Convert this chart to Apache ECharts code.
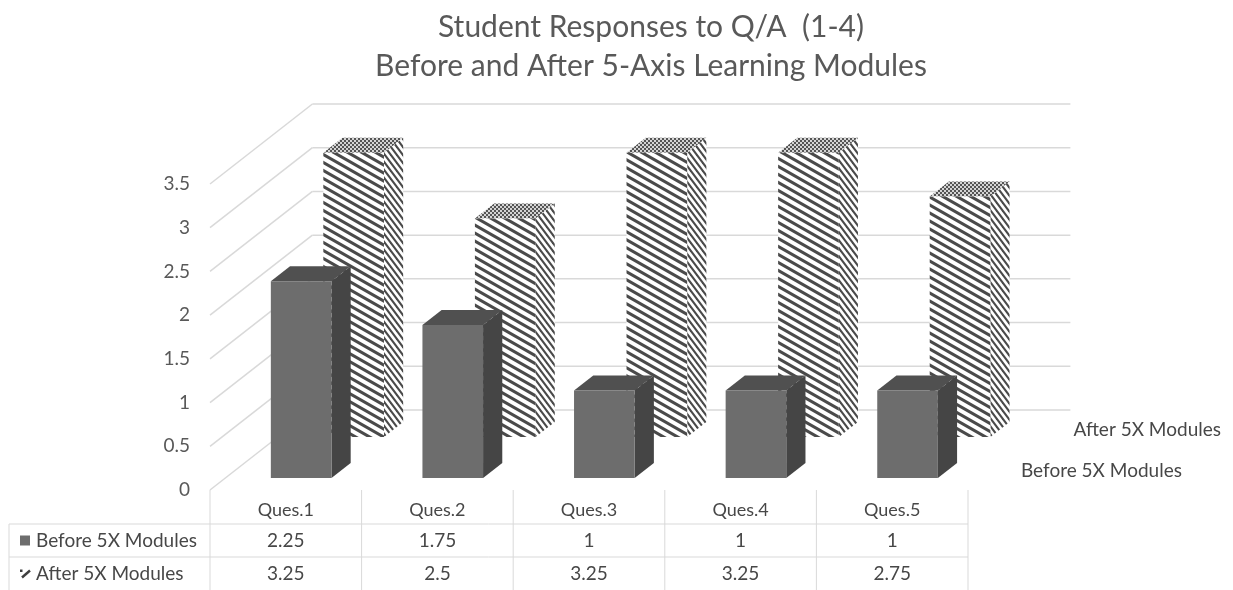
<!DOCTYPE html>
<html>
<head>
<meta charset="utf-8">
<script src="https://cdn.jsdelivr.net/npm/echarts@6/dist/echarts.min.js"></script>
<style>
  html, body { margin: 0; padding: 0; background: #ffffff; }
  #chart { width: 1233px; height: 590px; }
</style>
</head>
<body>
<div id="chart"></div>
<script>
// ---- data ----
const categories = ['Ques.1', 'Ques.2', 'Ques.3', 'Ques.4', 'Ques.5'];
const seriesNames = ['Before 5X Modules', 'After 5X Modules'];
const beforeValues = [2.25, 1.75, 1, 1, 1];
const afterValues = [3.25, 2.5, 3.25, 3.25, 2.75];
const valueTicks = [0, 0.5, 1, 1.5, 2, 2.5, 3, 3.5];
const titleLines = ['Student Responses to Q/A  (1-4)', 'Before and After 5-Axis Learning Modules'];

// ---- oblique 3D look ----
const FONT = 'Lato, "Open Sans", sans-serif';
const SLANT = 1.28;          // horizontal shift per pixel of depth rise
const FLOOR_DEPTH = 80;      // depth of the floor, in pixels of rise
const ROWS = [               // depth band of each series row (front, back)
  { front: 12, back: 27 },   // Before
  { front: 53, back: 68 }    // After
];
const BAR_RATIO = 0.40;
const GRID_COLOR = '#d9d9d9';
const TEXT_COLOR = '#595959';
const TABLE_TEXT = '#474747';
const TABLE_FONT = '19px ' + FONT;
const TABLE_LEFT = 9;

function tile(w, h, draw) {
  const c = document.createElement('canvas');
  c.width = w; c.height = h;
  const g = c.getContext('2d');
  draw(g, w, h);
  return c;
}
function stripes(w, h, thick, color) {
  return tile(w, h, function (g) {
    g.fillStyle = '#ffffff';
    g.fillRect(0, 0, w, h);
    g.fillStyle = color;
    for (let k = -h; k <= h; k += h) {
      g.beginPath();
      g.moveTo(0, k); g.lineTo(w, k + h); g.lineTo(w, k + h + thick); g.lineTo(0, k + thick);
      g.closePath(); g.fill();
    }
  });
}
const frontHatch = { image: stripes(14, 8, 3.5, '#4a4a4a'), repeat: 'repeat' };
const sideHatch = { image: stripes(6, 8, 3.5, '#4a4a4a'), repeat: 'repeat' };
const topHatch = {
  image: tile(4, 4, function (g) {
    g.fillStyle = '#d4d4d4'; g.fillRect(0, 0, 4, 4);
    g.fillStyle = '#555555'; g.fillRect(0, 0, 2, 2); g.fillRect(2, 2, 2, 2);
  }),
  repeat: 'repeat'
};

const FILLS = [
  { front: '#6d6d6d', side: '#454545', top: '#505050' },
  { front: frontHatch, side: sideHatch, top: topHatch }
];

function shift(p, w) { return [p[0] + w * SLANT, p[1] - w]; }

function barRenderer(rowIndex) {
  const row = ROWS[rowIndex];
  const fill = FILLS[rowIndex];
  return function (params, api) {
    const idx = api.value(0);
    const val = api.value(1);
    const base = api.coord([idx, 0]);
    const top = api.coord([idx, val]);
    const bw = api.size([1, 0])[0] * BAR_RATIO;
    const xl = base[0] - bw / 2, xr = base[0] + bw / 2;
    const f = row.front, b = row.back;
    const fTL = shift([xl, top[1]], f), fTR = shift([xr, top[1]], f);
    const fBR = shift([xr, base[1]], f);
    const bTL = shift([xl, top[1]], b), bTR = shift([xr, top[1]], b);
    const bBR = shift([xr, base[1]], b);
    return {
      type: 'group',
      children: [
        { type: 'polygon', shape: { points: [fBR, fTR, bTR, bBR] }, style: { fill: fill.side } },
        { type: 'polygon', shape: { points: [fTL, fTR, bTR, bTL] }, style: { fill: fill.top } },
        { type: 'rect', shape: { x: fTL[0], y: fTL[1], width: bw, height: base[1] - top[1] }, style: { fill: fill.front } }
      ]
    };
  };
}

// walls: back-wall gridlines and side-wall diagonals, one pair per tick
function wallRenderer(params, api) {
  const cs = params.coordSys;
  const v = api.value(0);
  const y = api.coord([0, v])[1];
  const left = [cs.x, y];
  const backLeft = shift(left, FLOOR_DEPTH);
  const backRight = shift([cs.x + cs.width, y], FLOOR_DEPTH);
  const lineStyle = { stroke: GRID_COLOR, lineWidth: 1.5, fill: null };
  return {
    type: 'group',
    children: [
      { type: 'line', shape: { x1: left[0], y1: left[1], x2: backLeft[0], y2: backLeft[1] }, style: lineStyle },
      { type: 'line', shape: { x1: backLeft[0], y1: backLeft[1], x2: backRight[0], y2: backRight[1] }, style: lineStyle }
    ]
  };
}

// series (depth) axis labels at the right end of the floor
function depthLabelRenderer(params, api) {
  const cs = params.coordSys;
  const r = api.value(0);
  const mid = (ROWS[r].front + ROWS[r].back) / 2;
  const p = shift([cs.x + cs.width, cs.y + cs.height], mid);
  return {
    type: 'text',
    style: {
      x: p[0] + 28, y: p[1], text: seriesNames[r],
      fill: TABLE_TEXT, font: TABLE_FONT, textAlign: 'left', textVerticalAlign: 'middle'
    }
  };
}

// data table under the floor
function tableRenderer(params, api) {
  const cs = params.coordSys;
  const i = api.value(0);
  const bandW = api.size([1, 0])[0];
  const cx = api.coord([i, 0])[0];
  const xl = cx - bandW / 2, xr = cx + bandW / 2;
  const floorY = cs.y + cs.height;
  const bottom = api.getHeight();
  const rowY = [floorY + 34, floorY + 67];
  const ln = { stroke: GRID_COLOR, lineWidth: 1, fill: null };
  const txt = function (x, y, s, align) {
    return { type: 'text', style: { x: x, y: y, text: s, fill: TABLE_TEXT, font: TABLE_FONT, textAlign: align || 'center', textVerticalAlign: 'middle' } };
  };
  const children = [
    { type: 'line', shape: { x1: xl, y1: floorY, x2: xl, y2: bottom }, style: ln },
    txt(cx, (rowY[0] + rowY[1]) / 2, String(beforeValues[i])),
    txt(cx, (rowY[1] + bottom) / 2, String(afterValues[i]))
  ];
  if (i === categories.length - 1) {
    children.push({ type: 'line', shape: { x1: xr, y1: floorY, x2: xr, y2: bottom }, style: ln });
  }
  if (i === 0) {
    const right = cs.x + cs.width;
    children.push(
      { type: 'line', shape: { x1: TABLE_LEFT, y1: rowY[0], x2: right, y2: rowY[0] }, style: ln },
      { type: 'line', shape: { x1: TABLE_LEFT, y1: rowY[1], x2: right, y2: rowY[1] }, style: ln },
      { type: 'line', shape: { x1: TABLE_LEFT, y1: rowY[0], x2: TABLE_LEFT, y2: bottom }, style: ln },
      // legend keys
      { type: 'rect', shape: { x: 20, y: (rowY[0] + rowY[1]) / 2 - 5, width: 10, height: 10 }, style: { fill: FILLS[0].front } },
      { type: 'line', shape: { x1: 22, y1: (rowY[1] + bottom) / 2 + 4, x2: 30, y2: (rowY[1] + bottom) / 2 - 3 }, style: { stroke: '#3f3f3f', lineWidth: 2.4 } },
      { type: 'rect', shape: { x: 20, y: (rowY[1] + bottom) / 2 - 4, width: 2.5, height: 2.5 }, style: { fill: '#3f3f3f' } },
      txt(36, (rowY[0] + rowY[1]) / 2, seriesNames[0], 'left'),
      txt(36, (rowY[1] + bottom) / 2, seriesNames[1], 'left')
    );
  }
  return { type: 'group', children: children };
}

const chart = echarts.init(document.getElementById('chart'), null, { renderer: 'canvas' });
chart.setOption({
  animation: false,
  backgroundColor: '#ffffff',
  graphic: [
    { type: 'text', x: 651, y: 27, style: { text: titleLines[0], font: '30px ' + FONT, fill: TEXT_COLOR, textAlign: 'center', textVerticalAlign: 'middle' } },
    { type: 'text', x: 651, y: 66, style: { text: titleLines[1], font: '30px ' + FONT, fill: TEXT_COLOR, textAlign: 'center', textVerticalAlign: 'middle' } }
  ],
  grid: { left: 210, top: 184, width: 758, height: 306, containLabel: false },
  xAxis: {
    type: 'category',
    data: categories,
    axisLine: { show: false },
    axisTick: { show: false },
    splitLine: { show: false },
    axisLabel: { margin: 11, fontSize: 18, fontFamily: FONT, color: TABLE_TEXT }
  },
  yAxis: {
    type: 'value',
    min: 0, max: 3.5, interval: 0.5,
    axisLine: { show: false },
    axisTick: { show: false },
    splitLine: { show: false },
    axisLabel: { margin: 20, fontSize: 19, fontFamily: FONT, color: TEXT_COLOR }
  },
  series: [
    { type: 'custom', name: 'walls', z: 1, silent: true, renderItem: wallRenderer, data: valueTicks.map(function (v) { return [v]; }), encode: { y: 0 } },
    { type: 'custom', name: seriesNames[1], z: 2, renderItem: barRenderer(1), data: afterValues.map(function (v, i) { return [i, v]; }), encode: { x: 0, y: 1 } },
    { type: 'custom', name: seriesNames[0], z: 3, renderItem: barRenderer(0), data: beforeValues.map(function (v, i) { return [i, v]; }), encode: { x: 0, y: 1 } },
    { type: 'custom', name: 'depthLabels', z: 4, silent: true, renderItem: depthLabelRenderer, data: [[0], [1]] },
    { type: 'custom', name: 'table', z: 4, silent: true, renderItem: tableRenderer, data: categories.map(function (c, i) { return [i]; }), encode: { x: 0 } }
  ]
});
</script>
</body>
</html>
